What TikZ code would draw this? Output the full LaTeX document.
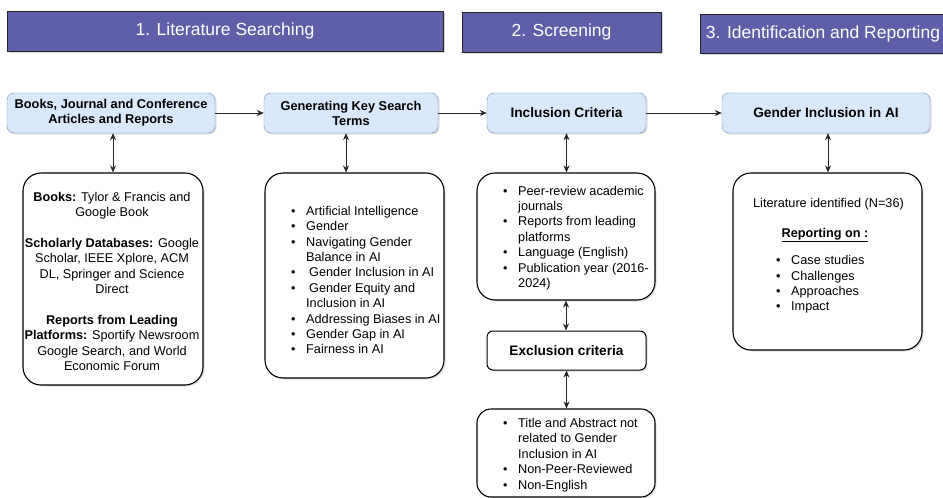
\documentclass[tikz,border=0pt]{standalone}
\usepackage{fontspec}
\setmainfont{Liberation Sans}
\usetikzlibrary{arrows.meta,shadows}

\definecolor{phasefill}{RGB}{94,95,168}
\definecolor{stagefill}{RGB}{218,232,252}
\definecolor{stageline}{RGB}{108,142,191}

\newcommand{\bul}{\makebox[15pt][l]{\textbullet}}
\newcommand{\ind}{\hspace*{15pt}}

\tikzset{
  phasebar/.style={draw=black!85, fill=phasefill, text=white, inner sep=0pt,
    minimum height=40pt, font=\fontsize{17.5}{21}\selectfont,
    drop shadow={shadow xshift=1.5pt, shadow yshift=-1.5pt, opacity=0.35}},
  stagebox/.style={draw=stageline, fill=stagefill, rounded corners=7pt, inner sep=0pt,
    minimum height=40pt, align=center, font=\bfseries\fontsize{13.7}{16}\selectfont,
    drop shadow={shadow xshift=1.5pt, shadow yshift=-1.5pt, opacity=0.25}},
  listbox/.style={draw=black, line width=1.1pt, fill=white, rounded corners=18pt,
    drop shadow={shadow xshift=1.5pt, shadow yshift=-1.5pt, opacity=0.25}},
  listtext/.style={inner sep=0pt, align=left, font=\fontsize{12.7}{15.4}\selectfont},
  flowarrow/.style={-{Stealth[length=7pt,width=6pt]}, line width=0.9pt, draw=black!85},
  twoway/.style={{Stealth[length=7pt,width=6pt]}-{Stealth[length=7pt,width=6pt]},
    line width=0.9pt, draw=black!85},
}

\begin{document}
\begin{tikzpicture}[x=1pt,y=-1pt]
\useasboundingbox (0,0) rectangle (943,498);
\clip (0,0) rectangle (943,498);

% Phase headers
\node[phasebar, minimum width=436pt] (lit) at (225,31) {1. Literature Searching};
\node[phasebar, minimum width=199pt] (scr) at (561.5,32) {2. Screening};
\node[phasebar, minimum width=246pt, minimum height=39pt] (idr) at (823,33.5) {3. Identification and Reporting};

% Main flow
\node[stagebox, minimum width=208pt, font=\bfseries\fontsize{12.8}{15}\selectfont] (src) at (111,113) {Books, Journal and Conference\\Articles and Reports};
\node[stagebox, minimum width=174pt, font=\bfseries\fontsize{12.8}{15}\selectfont] (terms) at (351,113) {Generating Key Search\\Terms};
\node[stagebox, minimum width=159pt] (incl) at (566.5,113) {Inclusion Criteria};
\node[stagebox, minimum width=208pt] (gender) at (826,113) {Gender Inclusion in AI};

\draw[flowarrow] (src) -- (terms);
\draw[flowarrow] (terms) -- (incl);
\draw[flowarrow] (incl) -- (gender);

% Sources
\node[listbox, minimum width=180pt, minimum height=212pt] (srclist) at (113,279) {};
\node[listtext, align=center] (srctext) at (112,281.5) {\textbf{Books:} Tylor \& Francis and\\Google Book\\[15.4pt]
  \textbf{Scholarly Databases:} Google\\Scholar, IEEE Xplore, ACM\\DL, Springer and Science\\Direct\\[15.4pt]
  \textbf{Reports from Leading}\\\textbf{Platforms:} Sportify Newsroom\\Google Search, and World\\Economic Forum};

% Search terms
\node[listbox, minimum width=179pt, minimum height=205pt] (termlist) at (354.5,275.5) {};
\node[listtext, anchor=west] (termtext) at (291,280) {\bul Artificial Intelligence\\ \bul Gender\\
  \bul Navigating Gender\\ \ind Balance in AI\\ \bul\hspace{3pt}Gender Inclusion in AI\\
  \bul\hspace{3pt}Gender Equity and\\ \ind Inclusion in AI\\ \bul Addressing Biases in AI\\
  \bul Gender Gap in AI\\ \bul Fairness in AI};

% Screening
\node[listbox, minimum width=178pt, minimum height=127pt] (inclist) at (566,236.5) {};
\node[listtext, anchor=west] (inctext) at (503,238) {\bul Peer-review academic\\ \ind journals\\
  \bul Reports from leading\\ \ind platforms\\ \bul Language (English)\\
  \bul Publication year (2016-\\ \ind 2024)};

\node[listbox, line width=1pt, rounded corners=6pt, minimum width=159pt, minimum height=39pt,
  font=\bfseries\fontsize{13.7}{16}\selectfont] (excl) at (566.5,350.5) {Exclusion criteria};

\node[listbox, rounded corners=14pt, minimum width=178pt, minimum height=88pt] (exclist) at (566,453) {};
\node[listtext, anchor=west] (exctext) at (503,455) {\bul Title and Abstract not\\ \ind related to Gender\\
  \ind Inclusion in AI\\ \bul Non-Peer-Reviewed\\ \bul Non-English};

% Reporting
\node[listbox, minimum width=189pt, minimum height=177pt] (replist) at (827.5,261.5) {};
\node[listtext] (littext) at (828.5,204) {Literature identified (N=36)};
\node[listtext] (reptitle) at (825,235) {\underline{\textbf{Reporting on :}}};
\node[listtext, anchor=west] (reptext) at (776,284.5) {\bul Case studies\\ \bul Challenges\\ \bul Approaches\\ \bul Impact};

% Vertical links
\draw[twoway] (src.south -| srclist.north) -- (srclist.north);
\draw[twoway] ([xshift=-5pt]terms.south) -- ([xshift=-5pt]terms.south |- termlist.north);
\draw[twoway] (incl.south) -- (incl.south |- inclist.north);
\draw[twoway] (inclist.south) -- (inclist.south |- excl.north);
\draw[twoway] (excl.south) -- (excl.south |- exclist.north);
\draw[twoway] ([xshift=2pt]gender.south) -- ([xshift=2pt]gender.south |- replist.north);
\end{tikzpicture}
\end{document}
